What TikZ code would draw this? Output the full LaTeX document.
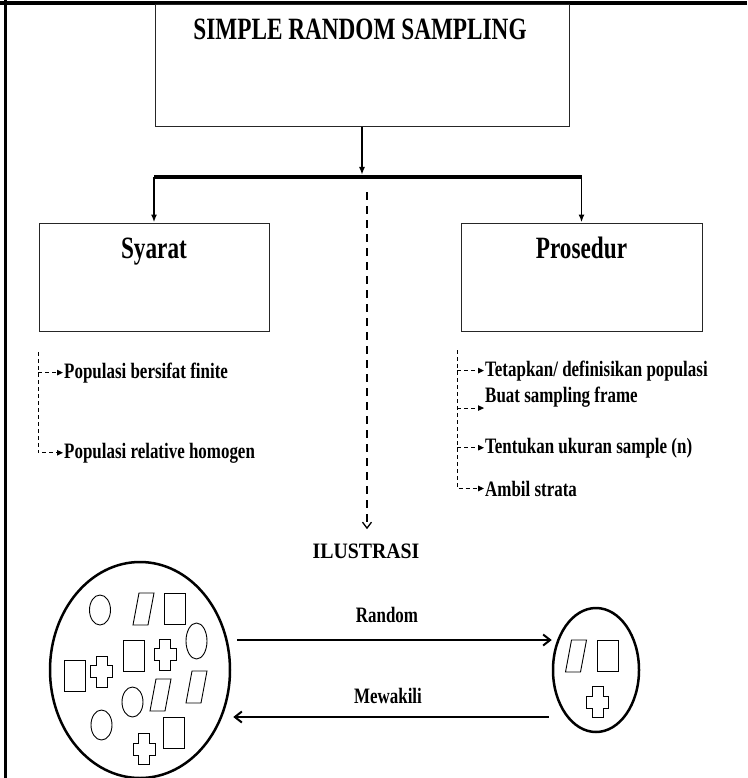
\documentclass[tikz,border=0pt]{standalone}
\usepackage{fontspec}
\setmainfont{Liberation Serif}
\usepackage{graphicx}
\usepackage{tikz}
\usetikzlibrary{arrows.meta,positioning,shapes.geometric,calc}
\newcommand{\narrowtext}[2][0.77]{\scalebox{#1}[1]{#2}}

\begin{document}
\begin{tikzpicture}[x=1pt,y=-1pt,
  box/.style={draw=black!85,line width=1pt,inner sep=0pt},
  head/.style={font=\fontsize{31}{31}\selectfont\bfseries,inner sep=0pt,anchor=base},
  item/.style={font=\fontsize{22}{22}\selectfont\bfseries,inner sep=1pt,anchor=base west},
  lbl/.style={font=\fontsize{22}{22}\selectfont\bfseries,inner sep=0pt,anchor=base},
  arr/.style={-{Latex[length=8pt,width=6pt]},line width=1.6pt},
  bar/.style={line width=3.5pt},
  guide/.style={dash pattern=on 8pt off 6pt,line width=1.3pt},
  brk/.style={dash pattern=on 4pt off 3pt,line width=1pt},
  itemarr/.style={brk,-{Triangle[length=6pt,width=5.5pt]}},
  ring/.style={draw,ellipse,line width=2.5pt,inner sep=0pt},
  flow/.style={-{Straight Barb[length=7pt,width=11pt]},line width=2pt},
  shp/.style={draw,line width=0.9pt},
  parshape/.pic={\draw[shp] (-10.5,16) -- (4.5,16) -- (10.5,-16) -- (-4.5,-16) -- cycle;},
  boxshape/.pic={\draw[shp] (-10.5,-15.5) rectangle (10.5,15.5);},
  crossshape/.pic={\draw[shp] (-5.5,-15.5) -- (5.5,-15.5) -- (5.5,-6) -- (11,-6) -- (11,6)
     -- (5.5,6) -- (5.5,15.5) -- (-5.5,15.5) -- (-5.5,6) -- (-11,6) -- (-11,-6) -- (-5.5,-6) -- cycle;}
]
\useasboundingbox (0,0) rectangle (747,778);
%--- frame ---
\draw[line width=3.5pt] (0,3) -- (747,3);
\draw[line width=3pt] (5,0) -- (5,778);

%--- top: title box and branches ---
\node[box,minimum width=414pt,minimum height=122pt] (srsbox) at (362,66) {};
\node[head] (srstitle) at (360,40) {\narrowtext[0.75]{SIMPLE RANDOM SAMPLING}};
\node[box,minimum width=230pt,minimum height=108pt] (syarat) at (154,277) {};
\node[box,minimum width=241pt,minimum height=108pt] (prosedur) at (581.5,277) {};
\node[head] (syarattxt) at (154,258) {\narrowtext[0.75]{Syarat}};
\node[head] (prosedurtxt) at (581.5,258) {\narrowtext[0.75]{Prosedur}};
\coordinate (barL) at (154,177);
\coordinate (barR) at (prosedur.north |- barL);
\draw[arr,shorten >=2pt] (srsbox.south) -- (srsbox.south |- barL);
\draw[bar] (barL) -- (barR);
\draw[arr] (barL) -- (syarat.north);
\draw[arr] (barR) -- (prosedur.north);

%--- Syarat items ---
\node[item] (fin) at (63,378) {\narrowtext{Populasi bersifat finite}};
\node[item] (hom) at (63,458) {\narrowtext{Populasi relative homogen}};
\coordinate (ltop) at (38,352);
\draw[itemarr] (ltop |- fin.west) -- (fin.west);
\draw[itemarr] (ltop) |- (hom.west);

%--- Prosedur items ---
\node[item] (tetap) at (484,376) {\narrowtext{Tetapkan/ definisikan populasi}};
\node[item] (buat) at (484,402) {\narrowtext{Buat sampling frame}};
\node[item] (tentu) at (484,453) {\narrowtext{Tentukan ukuran sample (n)}};
\node[item] (ambil) at (484,496) {\narrowtext{Ambil strata}};
\coordinate (rtop) at (457,350);
\draw[itemarr] (rtop |- tetap.west) -- (tetap.west);
\draw[itemarr] (rtop |- buat.south west) -- (buat.south west);
\draw[itemarr] (rtop |- tentu.west) -- (tentu.west);
\draw[itemarr] (rtop) |- (ambil.west);

%--- Ilustrasi ---
\node[font=\fontsize{22}{22}\selectfont\bfseries,inner sep=0pt,anchor=base] (ilus) at (366,558) {\narrowtext[0.9]{ILUSTRASI}};
\coordinate (ilustop) at (367,192);
\draw[guide,-{Straight Barb[length=6pt,width=9pt]},shorten >=14pt] (ilustop) -- (ilustop |- ilus.north);

%--- population and sample ---
\node[ring,minimum width=180pt,minimum height=216pt] (pop) at (140,670) {};
\node[ring,minimum width=86pt,minimum height=124pt] (smp) at (596,670) {};
\foreach \cx/\cy/\ry in {100/610/15, 196.5/641/18, 132.5/702/15, 101.5/725/15}
  \draw[shp] (\cx,\cy) ellipse [x radius=10.5, y radius=\ry];
\foreach \px/\py in {143.5/609, 160.5/695, 196.5/687, 576/656}
  \pic at (\px,\py) {parshape};
\foreach \px/\py in {174.5/609, 133.5/655.5, 74.5/676, 174/732.5, 608/655.5}
  \pic at (\px,\py) {boxshape};
\foreach \px/\py in {165/654.5, 101.5/671.5, 144/749, 597.5/702}
  \pic at (\px,\py) {crossshape};
\draw[flow] ($(pop.east)+(6,-30)$) -- ($(smp.west)+(0,-30)$);
\draw[flow] ($(smp.west)+(-3,47)$) -- ($(pop.east)+(2,47)$);
\node[lbl] (random) at (387,622) {\narrowtext{Random}};
\node[lbl] (mewakili) at (388,703) {\narrowtext{Mewakili}};
\end{tikzpicture}
\end{document}
